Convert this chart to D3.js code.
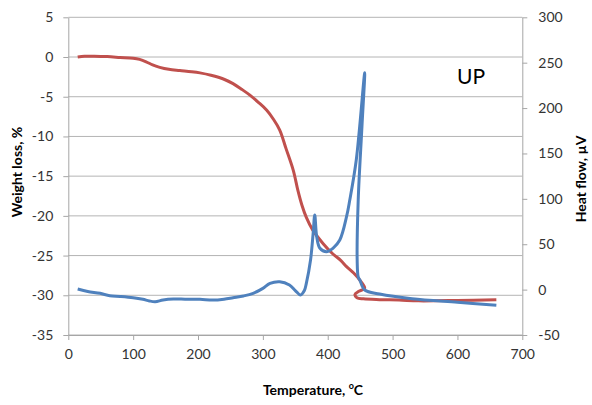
<!DOCTYPE html>
<html>
<head>
<meta charset="utf-8">
<script src="https://cdn.jsdelivr.net/npm/d3@7"></script>
<style>
body{ margin:0; background:#fff; }
svg text{ font-family: Lato, "Open Sans", sans-serif; fill:#333; }
</style>
</head>
<body>
<svg id="chart" width="592" height="405"></svg>
<script>
// weight loss curve (left axis)
var tempW = [14.5, 25, 40, 60, 80, 100, 110, 120, 130, 141, 155, 172, 190, 203, 220, 240, 254, 268, 280, 293, 306, 316, 326, 336, 347, 354, 360, 367, 377, 393, 408, 420, 429, 440, 449.5, 457, 448, 442, 445, 455, 480, 510, 540, 600, 660]
var weight = [0, 0.1, 0.1, 0.05, -0.05, -0.15, -0.3, -0.6, -1.0, -1.3, -1.55, -1.7, -1.85, -2.0, -2.3, -2.8, -3.35, -4.1, -4.8, -5.7, -6.7, -7.8, -9.2, -11.6, -14.3, -16.8, -18.6, -20.2, -21.8, -23.5, -24.8, -25.6, -26.4, -27.2, -28.1, -29.1, -29.5, -29.9, -30.3, -30.45, -30.55, -30.6, -30.7, -30.65, -30.55]
// heat flow curve (right axis)
var tempH = [14.5, 30, 49, 64, 80, 100, 115, 125, 134, 146, 162, 180, 203, 223, 240, 254, 270, 285, 300, 311, 326, 341, 350, 358, 364, 367, 373.5, 377.5, 380, 383, 388, 398, 408, 418.6, 429, 434, 444, 457, 452.8, 447, 445.4, 447, 449.5, 457, 480, 530, 600, 660]
var heat = [0.7, -2, -4.1, -6.7, -7.5, -8.9, -10.7, -12.5, -13.3, -11.5, -10.4, -10.5, -10.7, -11.5, -10.5, -8.9, -7, -4.1, 1.4, 6.9, 8.7, 5.1, -1, -5.9, -1, 6.9, 32.6, 62, 82.2, 58.3, 45.5, 41.8, 45.5, 54.6, 80.3, 98.7, 142.8, 239, 180, 98.7, 32.6, 14, 10.6, -0.4, -4.8, -10, -14, -17.3]

var xTicks = [0, 100, 200, 300, 400, 500, 600, 700]
var leftTicks = [5, 0, -5, -10, -15, -20, -25, -30, -35]
var rightTicks = [300, 250, 200, 150, 100, 50, 0, -50]

var L = 68.3, R = 522.3, T = 17.3, B = 335
var svg = d3.select('#chart')
var x = d3.scaleLinear().domain([0, 700]).range([L, R])
var yl = d3.scaleLinear().domain([-35, 5]).range([B, T])
var yr = d3.scaleLinear().domain([-50, 300]).range([B, T])

// grid
svg.append('g').selectAll('line').data(leftTicks).enter().append('line')
  .attr('x1', L).attr('x2', R)
  .attr('y1', d => yl(d)).attr('y2', d => yl(d))
  .attr('stroke', '#b4b4b4').attr('stroke-width', 1)

function styleAxis(g){
  g.select('.domain').attr('stroke', '#a6a6a6')
  g.selectAll('.tick line').attr('stroke', '#a6a6a6')
  g.selectAll('.tick text').attr('font-size', 14).style('fill', '#333')
}
var gx = svg.append('g').attr('transform', 'translate(0,' + B + ')')
  .call(d3.axisBottom(x).tickValues(xTicks).tickSizeInner(5).tickSizeOuter(0).tickPadding(9))
styleAxis(gx)
var gl = svg.append('g').attr('transform', 'translate(' + L + ',0)')
  .call(d3.axisLeft(yl).tickValues(leftTicks).tickSizeInner(5).tickSizeOuter(0).tickPadding(10))
styleAxis(gl)
var gr = svg.append('g').attr('transform', 'translate(' + R + ',0)')
  .call(d3.axisRight(yr).tickValues(rightTicks).tickSizeInner(5).tickSizeOuter(0).tickPadding(11))
styleAxis(gr)
gl.selectAll('.tick text').text(d => d < 0 ? '-' + Math.abs(d) : d)
gr.selectAll('.tick text').text(d => d < 0 ? '-' + Math.abs(d) : d)

// curves
var redLine = d3.line().x(d => x(d[0])).y(d => yl(d[1])).curve(d3.curveCatmullRom.alpha(0.5))
var blueLine = d3.line().x(d => x(d[0])).y(d => yr(d[1])).curve(d3.curveCatmullRom.alpha(0.5))
svg.append('path').datum(d3.zip(tempW, weight)).attr('d', redLine)
  .attr('fill', 'none').attr('stroke', '#c0504d').attr('stroke-width', 3).attr('stroke-linejoin', 'round')
svg.append('path').datum(d3.zip(tempH, heat)).attr('d', blueLine)
  .attr('fill', 'none').attr('stroke', '#4f81bd').attr('stroke-width', 3).attr('stroke-linejoin', 'round')

// titles
var xt = svg.append('text').attr('x', 313).attr('y', 395).attr('text-anchor', 'middle')
  .attr('font-size', 14).attr('font-weight', 'bold').style('fill', '#000')
xt.append('tspan').text('Temperature, ')
xt.append('tspan').text('o').attr('font-size', 9).attr('dy', -6)
xt.append('tspan').text('C').attr('dy', 6)
svg.append('text').attr('transform', 'translate(22,172) rotate(-90)').attr('text-anchor', 'middle')
  .attr('font-size', 14).attr('font-weight', 'bold').style('fill', '#000').text('Weight loss, %')
svg.append('text').attr('transform', 'translate(586,179) rotate(-90)').attr('text-anchor', 'middle')
  .attr('font-size', 14).attr('font-weight', 'bold').style('fill', '#000').text('Heat flow, µV')
svg.append('text').attr('x', 457).attr('y', 83.5).attr('font-size', 21).style('fill', '#000').text('UP')
</script>
</body>
</html>
